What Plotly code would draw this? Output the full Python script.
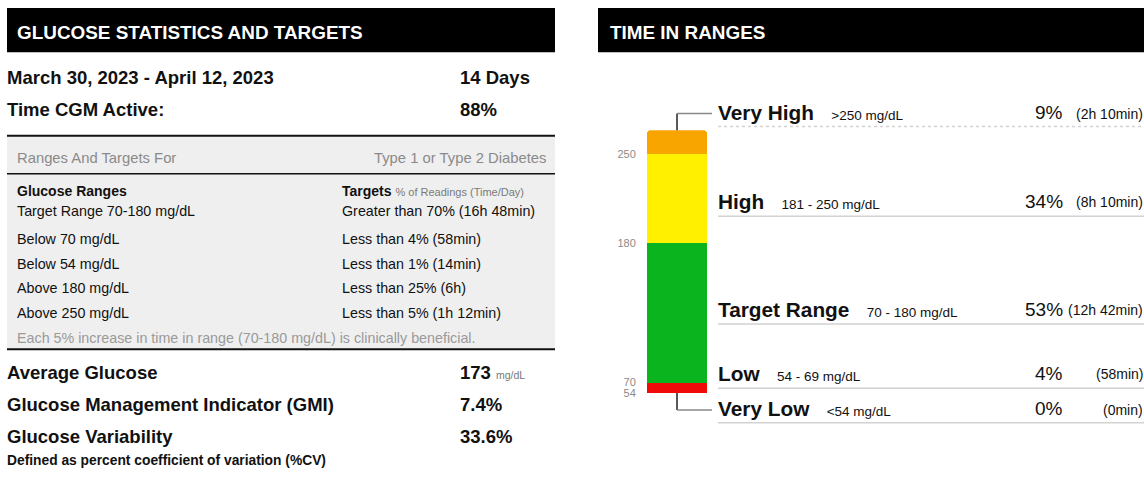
import plotly.graph_objects as go

# ---------------- data ----------------
date_range = "March 30, 2023 - April 12, 2023"
n_days = "14 Days"
cgm_active = "88%"

target_ranges = ["Target Range 70-180 mg/dL", "Below 70 mg/dL", "Below 54 mg/dL",
                 "Above 180 mg/dL", "Above 250 mg/dL"]
target_goals = ["Greater than 70% (16h 48min)", "Less than 4% (58min)", "Less than 1% (14min)",
                "Less than 25% (6h)", "Less than 5% (1h 12min)"]

metric_names = ["Average Glucose", "Glucose Management Indicator (GMI)", "Glucose Variability"]
metric_values = ["173", "7.4%", "33.6%"]

tir_labels = ["Very High", "High", "Target Range", "Low", "Very Low"]
tir_limits = [">250 mg/dL", "181 - 250 mg/dL", "70 - 180 mg/dL", "54 - 69 mg/dL", "<54 mg/dL"]
tir_pct = [9, 34, 53, 4, 0]
tir_time = ["2h 10min", "8h 10min", "12h 42min", "58min", "0min"]
tir_colors = ["#F9A500", "#FFF000", "#0AB41E", "#F00A0A", "#B00000"]
thresholds = ["250", "180", "70", "54"]

# ---------------- layout helpers ----------------
W, H = 1144, 487
FONT = "Liberation Sans, Arial, sans-serif"
TXT = "#111111"
fig = go.Figure()


def px(x):
    return x / W


def py(y):
    return 1 - y / H


def ann(text, x, y, size, color=TXT, bold=False, anchor="left"):
    if bold:
        text = "<b>" + text + "</b>"
    fig.add_annotation(x=px(x), y=py(y), xref="paper", yref="paper", text=text,
                       showarrow=False, xanchor=anchor, yanchor="middle",
                       borderpad=0, borderwidth=0,
                       font=dict(family=FONT, size=size, color=color))


def rect(x0, y0, x1, y1, color):
    fig.add_shape(type="rect", xref="paper", yref="paper",
                  x0=px(x0), x1=px(x1), y0=py(y0), y1=py(y1),
                  fillcolor=color, line=dict(width=0), layer="below")


def line(x0, y0, x1, y1, color, width, dash="solid"):
    fig.add_shape(type="line", xref="paper", yref="paper",
                  x0=px(x0), x1=px(x1), y0=py(y0), y1=py(y1),
                  line=dict(color=color, width=width, dash=dash))


# ---------------- left panel ----------------
rect(7, 8, 555, 53, "#000000")
ann("GLUCOSE STATISTICS AND TARGETS", 17, 33, 18.9, "#ffffff", bold=True)

BIG = 18.5
ann(date_range, 7, 78, BIG, bold=True)
ann(n_days, 460, 78, BIG, bold=True)
ann("Time CGM Active:", 7, 111, BIG, bold=True)
ann(cgm_active, 460, 111, BIG, bold=True)

rect(7, 138, 555, 353, "#efefef")
line(7, 137.5, 555, 137.5, "#111111", 2)
ann("Ranges And Targets For", 17, 160, 14.8, "#8a8a8a")
ann("Type 1 or Type 2 Diabetes", 546, 160, 14.8, "#8a8a8a", anchor="right")
line(7, 176, 555, 176, "#111111", 1.5)

SMALL = 14.3
ann("Glucose Ranges", 17, 193, 14, bold=True)
ann("<b>Targets</b> <span style='font-size:11px;color:#7a7a7a'>% of Readings (Time/Day)</span>",
    342, 193, 14)
row_y = [214, 242, 267, 292, 317]
for name, goal, yy in zip(target_ranges, target_goals, row_y):
    ann(name, 17, yy, SMALL)
    ann(goal, 342, yy, SMALL)
ann("Each 5% increase in time in range (70-180 mg/dL) is clinically beneficial.", 17, 342, SMALL, "#9a9a9a")
line(7, 353.5, 555, 353.5, "#111111", 2)

metric_y = [377, 410, 442]
for name, val, yy in zip(metric_names, metric_values, metric_y):
    ann(name, 7, yy, BIG, bold=True)
    if name == "Average Glucose":
        val = "<b>" + val + "</b> <span style='font-size:10.5px;color:#777777'>mg/dL</span>"
        ann(val, 460, yy, BIG)
    else:
        ann(val, 460, yy, BIG, bold=True)
ann("Defined as percent coefficient of variation (%CV)", 7, 466, 13.8, bold=True)

# ---------------- right panel ----------------
rect(598, 8, 1144, 53, "#000000")
ann("TIME IN RANGES", 610, 33, 18.9, "#ffffff", bold=True)

# stacked bar (bottom -> top)
order = list(range(len(tir_labels)))[::-1]
for i in order:
    fig.add_trace(go.Bar(x=[0], y=[tir_pct[i]], name=tir_labels[i],
                         marker=dict(color=tir_colors[i], line=dict(width=0)),
                         width=1, showlegend=False, hoverinfo="skip"))

# cumulative lower edge of each segment, indexed like tir_labels
lower = {}
acc = 0
for i in order:
    lower[i] = acc
    acc += tir_pct[i]
# 250 = bottom of Very High, 180 = bottom of High, 70 = bottom of Target, 54 = bottom of Low
tick_pos = [lower[0], lower[1], lower[2], lower[3]]

BAR_X0, BAR_X1, BAR_Y0, BAR_Y1 = 647, 707, 132, 398
fig.update_layout(
    barmode="stack", barcornerradius=3,
    xaxis=dict(domain=[px(BAR_X0), px(BAR_X1)], range=[-0.5, 0.5], visible=False, fixedrange=True),
    yaxis=dict(domain=[py(BAR_Y1), py(BAR_Y0)], range=[0, acc], showgrid=False, zeroline=False,
               showline=False, tickmode="array", tickvals=tick_pos, ticktext=thresholds,
               ticks="outside", ticklen=8, tickcolor="rgba(0,0,0,0)",
               tickfont=dict(family=FONT, size=11, color="#8a8a8a"), fixedrange=True),
)

# connectors
cx = (BAR_X0 + BAR_X1) / 2
line(cx, BAR_Y0, cx, 115, "#222222", 1.5)
line(cx, 115, 712, 115, "#888888", 1.5)
line(cx, BAR_Y1, cx, 415, "#222222", 1.5)
line(cx, 415, 712, 415, "#888888", 1.5)

label_y = [114, 204, 313, 378, 414]
sep_y = [128, 219, 328, 393, 428]
for k, (lab, lim, pct, tm, yy, sy) in enumerate(zip(tir_labels, tir_limits, tir_pct, tir_time, label_y, sep_y)):
    lim_html = lim.replace("<", "&lt;").replace(">", "&gt;")
    ann("<b>" + lab + "</b>&nbsp;&nbsp;&nbsp;<span style='font-size:13.5px'>" + lim_html + "</span>",
        718, yy, 20.8)
    ann(f"{pct}%", 1063, yy, 19, anchor="right")
    ann(f"({tm})", 1143, yy + 1, 14, anchor="right")
    line(718, sy, 1144, sy, "#d2d2d2", 1.5, "dot" if k == 0 else "solid")

fig.update_layout(width=W, height=H, margin=dict(l=0, r=0, t=0, b=0),
                  paper_bgcolor="#ffffff", plot_bgcolor="rgba(0,0,0,0)")

fig.write_html("out.html", config={"displayModeBar": False},
               post_script="document.body.style.margin='0';")
